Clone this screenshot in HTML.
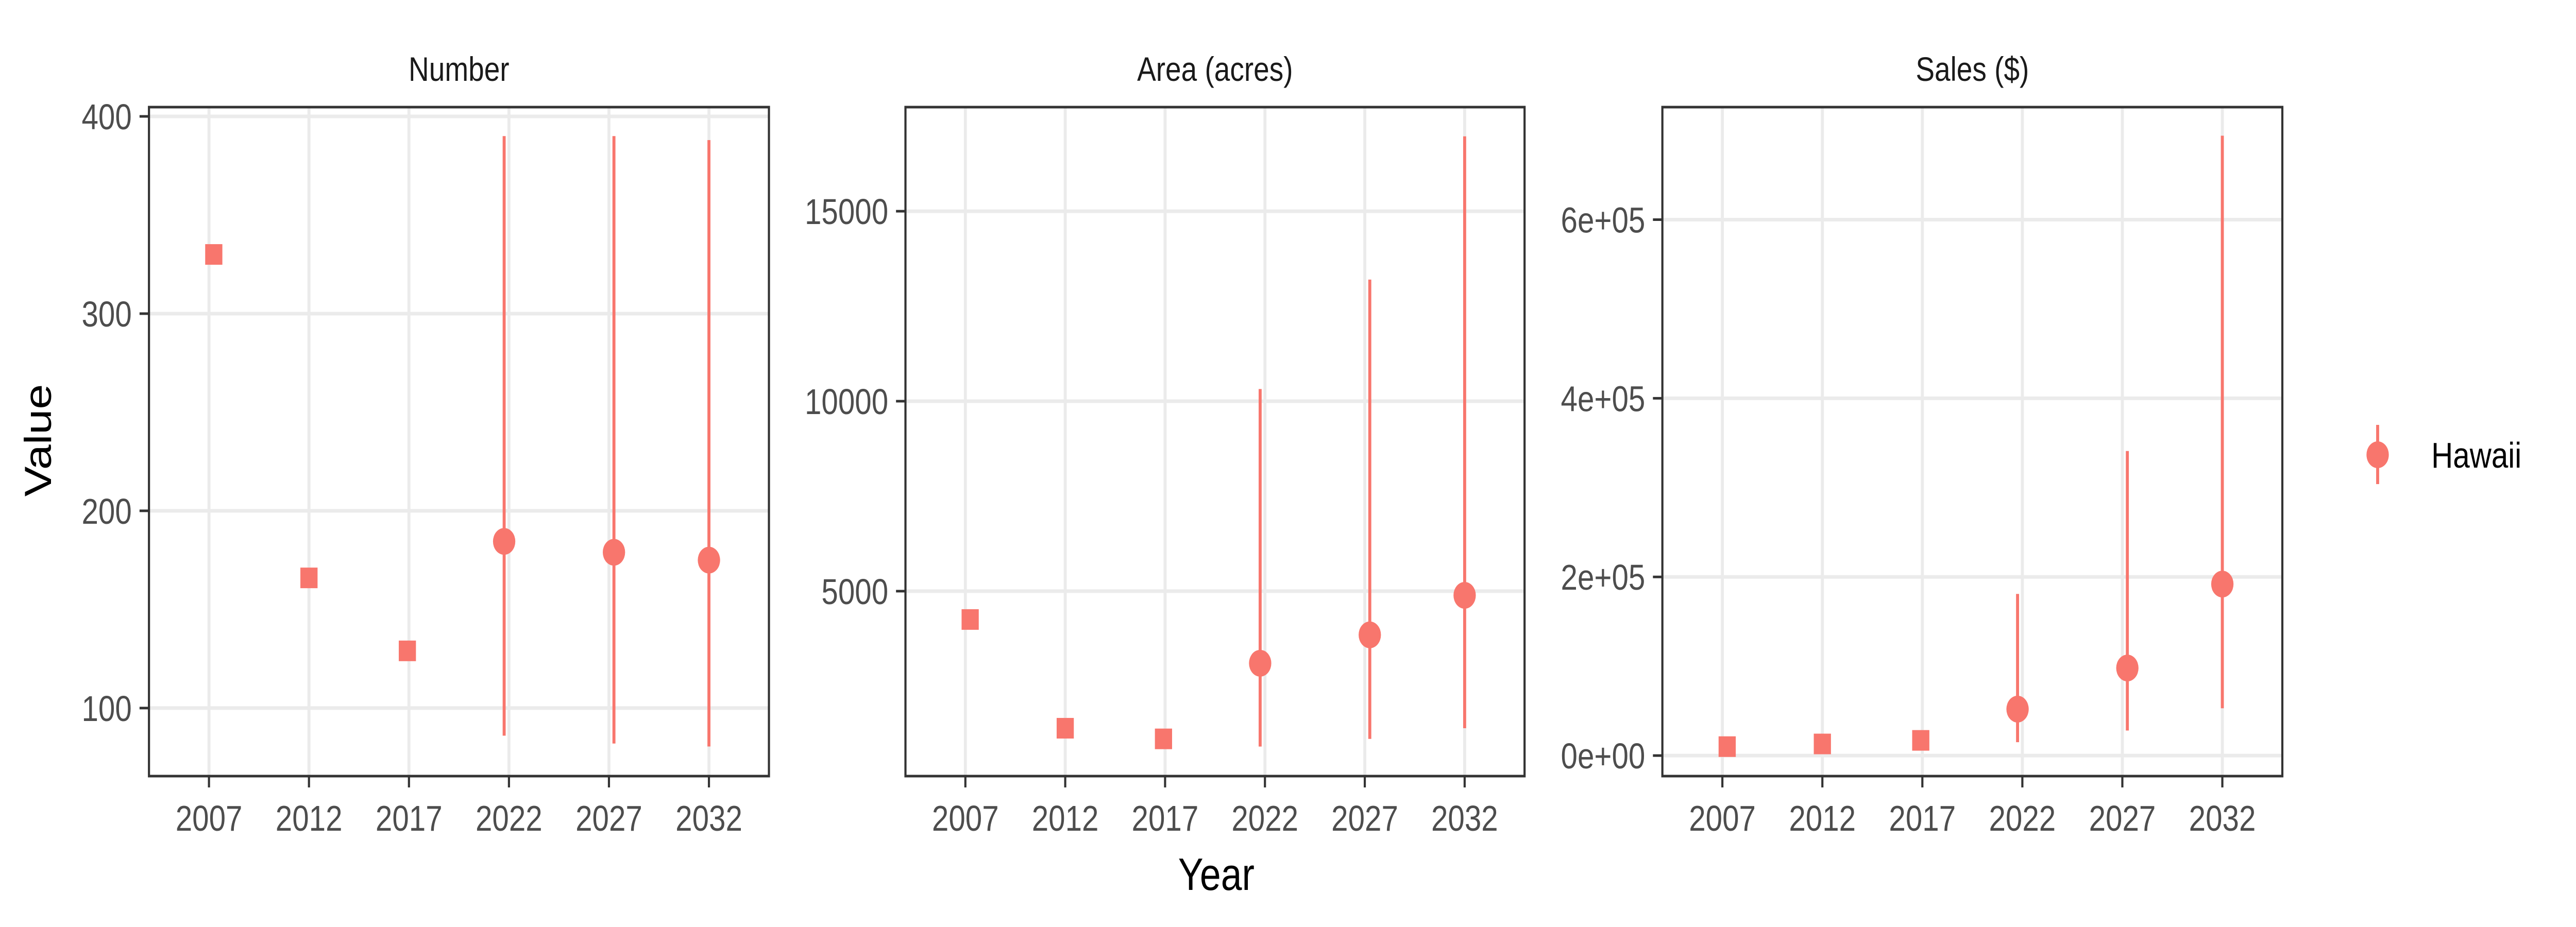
<!DOCTYPE html>
<html><head><meta charset="utf-8">
<style>
html,body{margin:0;padding:0;background:#fff;width:100%;height:100%;overflow:hidden;}
svg{display:block;width:100vw;height:100vh;font-family:"Liberation Sans",Arial,sans-serif;}
</style></head>
<body>
<svg id="chart" viewBox="0 0 6000 1800" preserveAspectRatio="none" xmlns="http://www.w3.org/2000/svg">
<rect x="0" y="0" width="6000" height="1800" fill="#fff"/>
<text x="89" y="855" font-size="88" text-anchor="middle" transform="rotate(-90 89 855)" dy="30" fill="#000">Value</text>
<text x="2833" y="1728" font-size="88" text-anchor="middle" fill="#000">Year</text>
<g>
<line x1="5538" y1="825" x2="5538" y2="940" stroke="#F8766D" stroke-width="7"/>
<circle cx="5538" cy="883" r="26" fill="#F8766D"/>
<text x="5663" y="908" font-size="70" fill="#000">Hawaii</text>
</g>
</svg>
<script>
const categories = [2007, 2012, 2017, 2022, 2027, 2032];
const jitter = [0.24, 0, -0.08, -0.24, 0.25, 0];
const isProjection = [false, false, false, true, true, true];
const numberValues = [330, 166, 129, 184.5, 179, 175];
const numberLow = [null, null, null, 86, 82, 80.5];
const numberHigh = [null, null, null, 390, 390, 388];
const areaValues = [4254, 1392, 1112, 3103, 3850, 4890];
const areaLow = [null, null, null, 910, 1112, 1392];
const areaHigh = [null, null, null, 10320, 13200, 16970];
const salesValues = [10000, 13000, 17000, 52000, 98000, 192000];
const salesLow = [null, null, null, 15000, 28000, 53000];
const salesHigh = [null, null, null, 181000, 341000, 694000];
const numberTicks = [100, 200, 300, 400];
const areaTicks = [5000, 10000, 15000];
const salesTicks = [0, 200000, 400000, 600000];
const salesTickLabels = ["0e+00", "2e+05", "4e+05", "6e+05"];

const svg = document.getElementById('chart');
const NS = 'http://www.w3.org/2000/svg';
function mk(tag, attrs, parent) {
  const e = document.createElementNS(NS, tag);
  for (const k in attrs) e.setAttribute(k, attrs[k]);
  (parent || svg).appendChild(e);
  return e;
}
const COL = '#F8766D';
const panels = [
  {key:'number', title:'Number', left:347, right:1791, ymin:65.5, ymax:404.7, vals:numberValues, lo:numberLow, hi:numberHigh, ticks:numberTicks, labels:numberTicks.map(String)},
  {key:'area', title:'Area (acres)', left:2109, right:3551, ymin:132, ymax:17740, vals:areaValues, lo:areaLow, hi:areaHigh, ticks:areaTicks, labels:areaTicks.map(String)},
  {key:'sales', title:'Sales ($)', left:3872, right:5316, ymin:-23000, ymax:726000, vals:salesValues, lo:salesLow, hi:salesHigh, ticks:salesTicks, labels:salesTickLabels}
];
const TOP = 208, BOT = 1507;
panels.forEach(p => {
  const g = mk('g', {});
  
  
  const n = categories.length;
  const slot = (p.right - p.left) / (n - 1 + 1.2);
  const xScale = yr => p.left + 0.6 * slot + ((yr - categories[0]) / 5) * slot;
  const yScale = v => BOT - (v - p.ymin) / (p.ymax - p.ymin) * (BOT - TOP);
  const t = mk('text', {x:(p.left + p.right) / 2, y:157, 'font-size':66, 'text-anchor':'middle', fill:'#1a1a1a'}, g);
  t.textContent = p.title;
  
  
  p.ticks.forEach((tv, i) => {
    const y = yScale(tv);
    const gl = mk('line', {x1:p.left, x2:p.right, y1:y, y2:y, stroke:'#EBEBEB', 'stroke-width':7}, g);
    
    
    const tk = mk('line', {x1:p.left - 22, x2:p.left, y1:y, y2:y, stroke:'#333', 'stroke-width':5}, g);
    
    
    const tl = mk('text', {x:p.left - 40, y:y + 25, 'font-size':70, 'text-anchor':'end', fill:'#4d4d4d'}, g);
    tl.textContent = p.labels[i];
    
    
  });
  categories.forEach(c => {
    const x = xScale(c);
    const gl = mk('line', {x1:x, x2:x, y1:TOP, y2:BOT, stroke:'#EBEBEB', 'stroke-width':7}, g);
    
    
    const tk = mk('line', {x1:x, x2:x, y1:BOT, y2:BOT + 22, stroke:'#333', 'stroke-width':5}, g);
    
    
    const tl = mk('text', {x:x, y:1613, 'font-size':70, 'text-anchor':'middle', fill:'#4d4d4d'}, g);
    tl.textContent = String(c);
    
    
  });
  categories.forEach((c, i) => {
    const x = xScale(c + jitter[i]);
    const y = yScale(p.vals[i]);
    if (p.lo[i] !== null) {
      const el = mk('line', {x1:x, x2:x, y1:yScale(p.lo[i]), y2:yScale(p.hi[i]), stroke:COL, 'stroke-width':7}, g);
      
      
    }
    let m;
    if (isProjection[i]) {
      m = mk('circle', {cx:x, cy:y, r:26, fill:COL}, g);
    } else {
      m = mk('rect', {x:x - 20, y:y - 20, width:40, height:40, fill:COL}, g);
    }
    
    
  });
  const border = mk('rect', {x:p.left, y:TOP, width:p.right - p.left, height:BOT - TOP, fill:'none', stroke:'#333', 'stroke-width':5}, g);
  
  
});
</script>
</body></html>
